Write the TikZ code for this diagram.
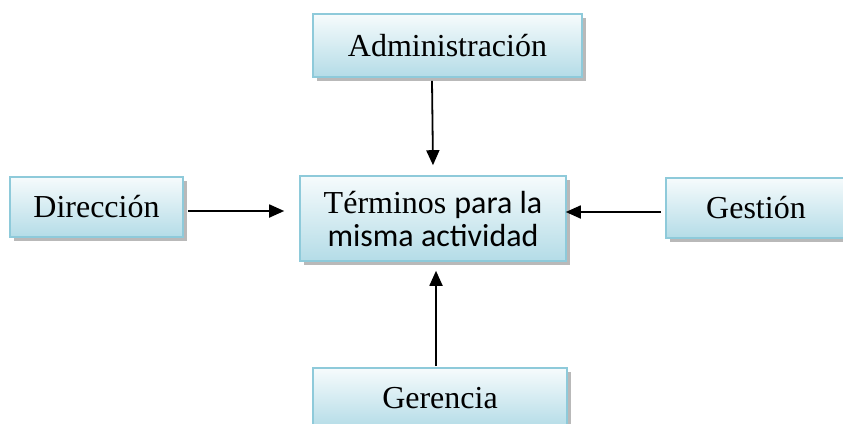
\documentclass[tikz,border=0pt]{standalone}
\usepackage{fontspec}
\setmainfont{Liberation Serif}
\newfontfamily\calib{Carlito}
\usetikzlibrary{arrows.meta,shadows}
\definecolor{boxtop}{HTML}{F6FBFC}
\definecolor{boxbot}{HTML}{B4DCE7}
\definecolor{boxline}{HTML}{8ECADA}
\tikzset{
  box/.style={draw=boxline, line width=1.6pt, top color=boxtop, bottom color=boxbot,
    drop shadow={shadow xshift=3.5pt, shadow yshift=-4pt, fill=gray!55, opacity=1},
    inner sep=0pt, align=center, font=\fontsize{32}{34}\selectfont},
  arr/.style={line width=1.8pt, -{Triangle[length=15pt,width=13pt]}}
}
\begin{document}
\begin{tikzpicture}[x=1pt,y=-1pt]
\useasboundingbox (0,0) rectangle (843,423);
\node[box, minimum width=269pt, minimum height=63pt] (adm) at (447.5,45.5) {Administración};
\node[box, minimum width=173pt, minimum height=60pt] (dir) at (96.5,207) {Dirección};
\node[box, minimum width=266pt, minimum height=85pt] (ctr) at (433,218.5) {Términos {\calib para la}\\[-1pt]{\calib misma actividad}};
\node[box, minimum width=180pt, minimum height=60pt] (ges) at (756,208) {Gestión};
\node[box, minimum width=254pt, minimum height=60pt] (ger) at (440,398) {Gerencia};
\draw[arr] ([xshift=-15.5pt,yshift=-3pt]adm.south) -- ([yshift=10pt]ctr.north);
\draw[arr] ([xshift=4pt,yshift=-4pt]dir.east) -- ([xshift=-15pt,yshift=-4pt]ctr.west |- dir.east);
\draw[arr] ([xshift=-4pt,yshift=-4pt]ges.west) -- ([xshift=-1pt,yshift=-4pt]ctr.east |- ges.west);
\draw[arr] ([xshift=-4pt,yshift=1pt]ger.north) -- ([xshift=3pt,yshift=-9pt]ctr.south);
\end{tikzpicture}
\end{document}
